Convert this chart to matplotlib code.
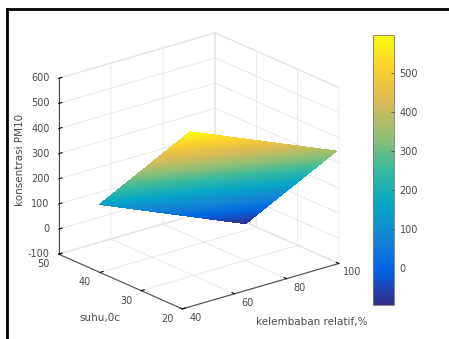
import numpy as np
import matplotlib
matplotlib.use("Agg")
import matplotlib.pyplot as plt
from matplotlib.colors import LinearSegmentedColormap
from matplotlib.lines import Line2D
from mpl_toolkits.mplot3d import proj3d

# regression plane PM10 = b0 + b1*RH + b2*T
b0 = 1192.0
b_rh = -4.38
b_suhu = -20.4
rh_range = [43, 99]      # kelembaban relatif, %
suhu_range = [20, 42]    # suhu, 0c
color_limits = [-96, 597]

x_ticks = [40, 60, 80, 100]
y_ticks = [20, 30, 40, 50]
z_ticks = [-100, 0, 100, 200, 300, 400, 500, 600]
cbar_ticks = [0, 100, 200, 300, 400, 500]

# approximation of MATLAB parula
parula = LinearSegmentedColormap.from_list("parula", [
    "#352a87", "#0363e1", "#1485d4", "#06a7c6", "#38b99e",
    "#92bf73", "#d9ba56", "#fcce2e", "#f9fb0e"])

W, H = 449, 339
fig = plt.figure(figsize=(W / 100, H / 100), dpi=100)
fig.patch.set_facecolor("white")

ax = fig.add_axes([0.043, 0.003, 0.78, 0.96], projection="3d")
ax.set_proj_type("ortho")
ax.view_init(elev=21, azim=-129)
ax.set_box_aspect((203, 198, 190), zoom=1.01)

rh = np.linspace(rh_range[0], rh_range[1], 60)
su = np.linspace(suhu_range[0], suhu_range[1], 60)
RH, SU = np.meshgrid(rh, su)
Z = b0 + b_rh * RH + b_suhu * SU

surf = ax.plot_surface(RH, SU, Z, cmap=parula, vmin=color_limits[0],
                       vmax=color_limits[1], linewidth=0, antialiased=False,
                       rstride=1, cstride=1)

ax.set_xlim(40, 100)
ax.set_ylim(20, 50)
ax.set_zlim(-100, 600)
ax.set_xticks(x_ticks)
ax.set_yticks(y_ticks)
ax.set_zticks(z_ticks)

tick_col = "#4a4a4a"
grid_col = "#e6e6e6"
for axis in (ax.xaxis, ax.yaxis, ax.zaxis):
    axis.set_pane_color((1, 1, 1, 1))
    axis.pane.set_edgecolor(grid_col)
    axis.line.set_color("#4d4d4d")
    axis.line.set_linewidth(0.8)
    axis.set_ticklabels([])
    axis._axinfo["grid"]["color"] = grid_col
    axis._axinfo["grid"]["linewidth"] = 0.6
    axis._axinfo["tick"]["inward_factor"] = 0.0
    axis._axinfo["tick"]["outward_factor"] = 0.25

# tick labels placed by hand, MATLAB style
fig.canvas.draw()
M = ax.get_proj()


def tick_label(x, y, z, s, dx, dy, ha="center"):
    px, py, _ = proj3d.proj_transform(x, y, z, M)
    ax.annotate(s, xy=(px, py), xycoords="data", xytext=(dx, dy),
                textcoords="offset pixels", ha=ha, va="center",
                fontsize=7, color=tick_col, annotation_clip=False)


for t in x_ticks:
    tick_label(t, 20, -100, str(t), 13, -9)
for t in y_ticks:
    tick_label(40, t, -100, str(t), -15, -10)
for t in z_ticks:
    tick_label(40, 50, t, str(t), -9, 0, ha="right")

fig.text(20 / W, 1 - 160 / H, "konsentrasi PM10", rotation=90,
         ha="center", va="center", fontsize=7.5, color=tick_col)
fig.text(100 / W, 1 - 318 / H, "suhu,0c", ha="center", va="center",
         fontsize=7.5, color=tick_col)
fig.text(312 / W, 1 - 322 / H, "kelembaban relatif,%", ha="center",
         va="center", fontsize=7.5, color=tick_col)

cax = fig.add_axes([373 / W, 1 - 305 / H, 21 / W, 270 / H])
cb = fig.colorbar(surf, cax=cax, ticks=cbar_ticks)
cb.outline.set_edgecolor("#777777")
cb.outline.set_linewidth(0.6)
cax.tick_params(direction="in", length=2.5, width=0.6, colors=tick_col,
                labelsize=7, pad=4)

# screenshot frame
fig.add_artist(Line2D([6.5 / W, 6.5 / W], [0, 1 - 9 / H], color="black",
                      linewidth=2, transform=fig.transFigure))
fig.add_artist(Line2D([6.5 / W, 1], [1 - 9 / H, 1 - 9 / H], color="black",
                      linewidth=2, transform=fig.transFigure))

fig.savefig("out.png", dpi=100)
